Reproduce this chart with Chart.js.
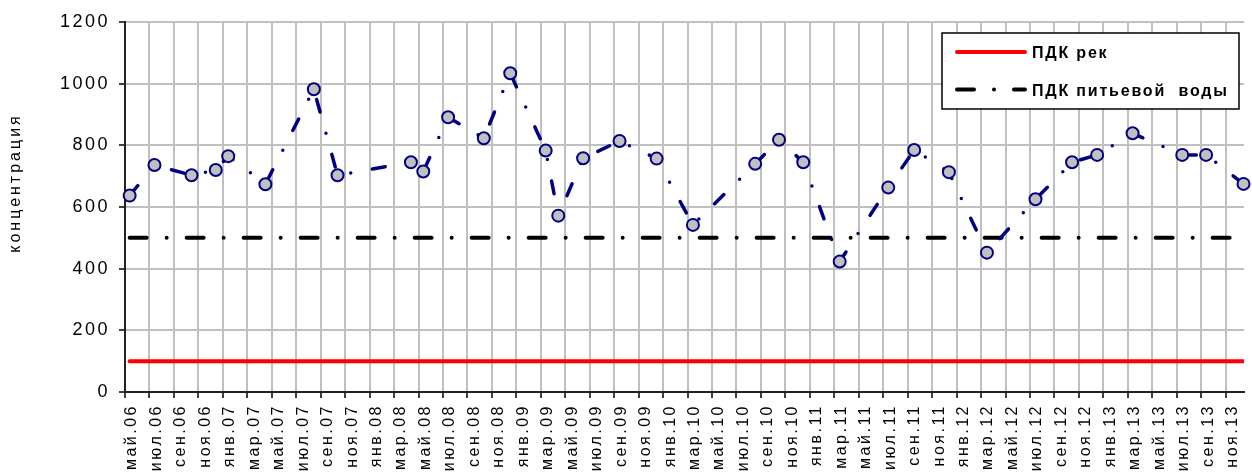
<!DOCTYPE html>
<html>
<head>
<meta charset="utf-8">
<script src="https://cdn.jsdelivr.net/npm/chart.js@4/dist/chart.umd.min.js"></script>
<style>
  body { margin: 0; overflow: hidden; background: #fff; }
  canvas { display: block; }
</style>
</head>
<body>
<canvas id="chart" width="1252" height="472"></canvas>
<script>
// sample dates, in months counted from май.06 (sampling was mid-month)
const sampleMonths = [
  0.38, 2.41, 5.44, 7.42, 8.44, 11.48, 15.44, 17.38, 23.38, 24.39, 26.42, 29.34,
  31.5, 34.4, 35.43, 37.46, 40.44, 43.47, 46.44, 51.53, 53.48, 55.46, 58.44,
  62.41, 64.53, 67.37, 70.48, 74.45, 77.44, 79.49, 82.39, 86.45, 88.4, 91.46,
];
const concentration = [
  637, 736, 703, 720, 765, 674, 982, 703, 745, 715, 891, 823,
  1034, 783, 572, 758, 814, 757, 542, 740, 818, 745, 423,
  663, 785, 713, 452, 625, 745, 769, 839, 769, 769, 675,
];
const pdkRiver = 100;
const pdkDrinking = 500;

// one label every two months, starting at май.06
const tickLabels = [
  'май.06', 'июл.06', 'сен.06', 'ноя.06',
  'янв.07', 'мар.07', 'май.07', 'июл.07', 'сен.07', 'ноя.07',
  'янв.08', 'мар.08', 'май.08', 'июл.08', 'сен.08', 'ноя.08',
  'янв.09', 'мар.09', 'май.09', 'июл.09', 'сен.09', 'ноя.09',
  'янв.10', 'мар.10', 'май.10', 'июл.10', 'сен.10', 'ноя.10',
  'янв.11', 'мар.11', 'май.11', 'июл.11', 'сен.11', 'ноя.11',
  'янв.12', 'мар.12', 'май.12', 'июл.12', 'сен.12', 'ноя.12',
  'янв.13', 'мар.13', 'май.13', 'июл.13', 'сен.13', 'ноя.13',
];
const yTitle = 'концентрация';

Chart.defaults.font.family = "'Liberation Sans', Arial, sans-serif";
Chart.defaults.color = '#000';

// the source text is set rather loose, so widen it a bit
const spacing = {
  id: 'spacing',
  beforeLayout(chart) { chart.ctx.letterSpacing = '2.5px'; },
  beforeDraw(chart) { chart.ctx.letterSpacing = '2.5px'; },
};

// legend box sits inside the plot, top right; the data series is not in it
const boxLegend = {
  id: 'boxLegend',
  afterDraw(chart) {
    const { ctx } = chart;
    ctx.save();
    ctx.fillStyle = '#fff';
    ctx.strokeStyle = '#000';
    ctx.lineWidth = 1.5;
    ctx.fillRect(942, 33, 297, 76);
    ctx.strokeRect(942, 33, 297, 76);

    [chart.data.datasets[1], chart.data.datasets[2]].forEach((ds, i) => {
      const y = 52 + i * 37.5;
      ctx.beginPath();
      ctx.strokeStyle = ds.borderColor;
      ctx.lineWidth = ds.borderWidth;
      ctx.lineCap = 'round';
      ctx.setLineDash(ds.borderDash || []);
      ctx.moveTo(957, y);
      ctx.lineTo(1025, y);
      ctx.stroke();
      ctx.setLineDash([]);

      ctx.fillStyle = '#000';
      ctx.font = "bold 16px 'Liberation Sans', Arial, sans-serif";
      ctx.letterSpacing = '1.8px';
      ctx.textAlign = 'left';
      ctx.textBaseline = 'alphabetic';
      ctx.fillText(ds.label, 1032, y + 6.3);
    });

    ctx.translate(15.5, 183);
    ctx.rotate(-Math.PI / 2);
    ctx.font = "16px 'Liberation Sans', Arial, sans-serif";
    ctx.letterSpacing = '3px';
    ctx.textAlign = 'center';
    ctx.textBaseline = 'middle';
    ctx.fillText(yTitle, 0, 0);
    ctx.restore();
  },
};

new Chart(document.getElementById('chart'), {
  type: 'line',
  data: {
    datasets: [
      {
        label: 'концентрация',
        data: sampleMonths.map((m, i) => ({ x: m, y: concentration[i] })),
        borderColor: '#000080',
        borderWidth: 3.5,
        borderDash: [13, 22, 0, 22],
        borderCapStyle: 'round',
        pointRadius: 6,
        pointBorderWidth: 2,
        pointBackgroundColor: '#c0c0c0',
        pointBorderColor: '#000080',
        tension: 0,
        clip: false,
      },
      {
        label: 'ПДК рек',
        data: sampleMonths.map((m) => ({ x: m, y: pdkRiver })),
        borderColor: '#ff0000',
        borderWidth: 4,
        borderCapStyle: 'round',
        pointRadius: 0,
      },
      {
        label: 'ПДК питьевой  воды',
        data: sampleMonths.map((m) => ({ x: m, y: pdkDrinking })),
        borderColor: '#000',
        borderWidth: 4,
        borderDash: [17, 20, 0, 20],
        borderCapStyle: 'round',
        pointRadius: 0,
      },
    ],
  },
  options: {
    responsive: false,
    animation: false,
    events: [],
    layout: { padding: { left: 0, top: 22, right: 0, bottom: 0 } },
    plugins: {
      legend: { display: false },
      tooltip: { enabled: false },
    },
    scales: {
      x: {
        type: 'linear',
        min: 0,
        max: 91.5, // plot runs on past the right edge of the picture
        afterBuildTicks: (scale) => {
          scale.ticks = tickLabels.map((_, i) => ({ value: i * 2 }));
        },
        afterFit: (scale) => {
          scale.height = 80;
          scale.paddingLeft = 0;
          scale.paddingRight = 0;
        },
        grid: { color: '#c0c0c0', lineWidth: 2, tickColor: '#000', tickLength: 6, tickWidth: 1.5 },
        border: { color: '#222', width: 2 },
        ticks: {
          autoSkip: false,
          minRotation: 90,
          maxRotation: 90,
          padding: 6,
          labelOffset: 7,
          font: { size: 16 },
          callback: (v) => tickLabels[Math.round(v / 2)] || '',
        },
      },
      y: {
        min: 0,
        max: 1200,
        afterFit: (scale) => { scale.width = 125; },
        grid: { color: '#c0c0c0', lineWidth: 2, tickColor: '#000', tickLength: 6, tickWidth: 1.5 },
        border: { color: '#222', width: 2 },
        ticks: { stepSize: 200, padding: 9, font: { size: 18 }, callback: (v) => String(v) },
      },
    },
  },
  plugins: [spacing, boxLegend],
});
</script>
</body>
</html>
